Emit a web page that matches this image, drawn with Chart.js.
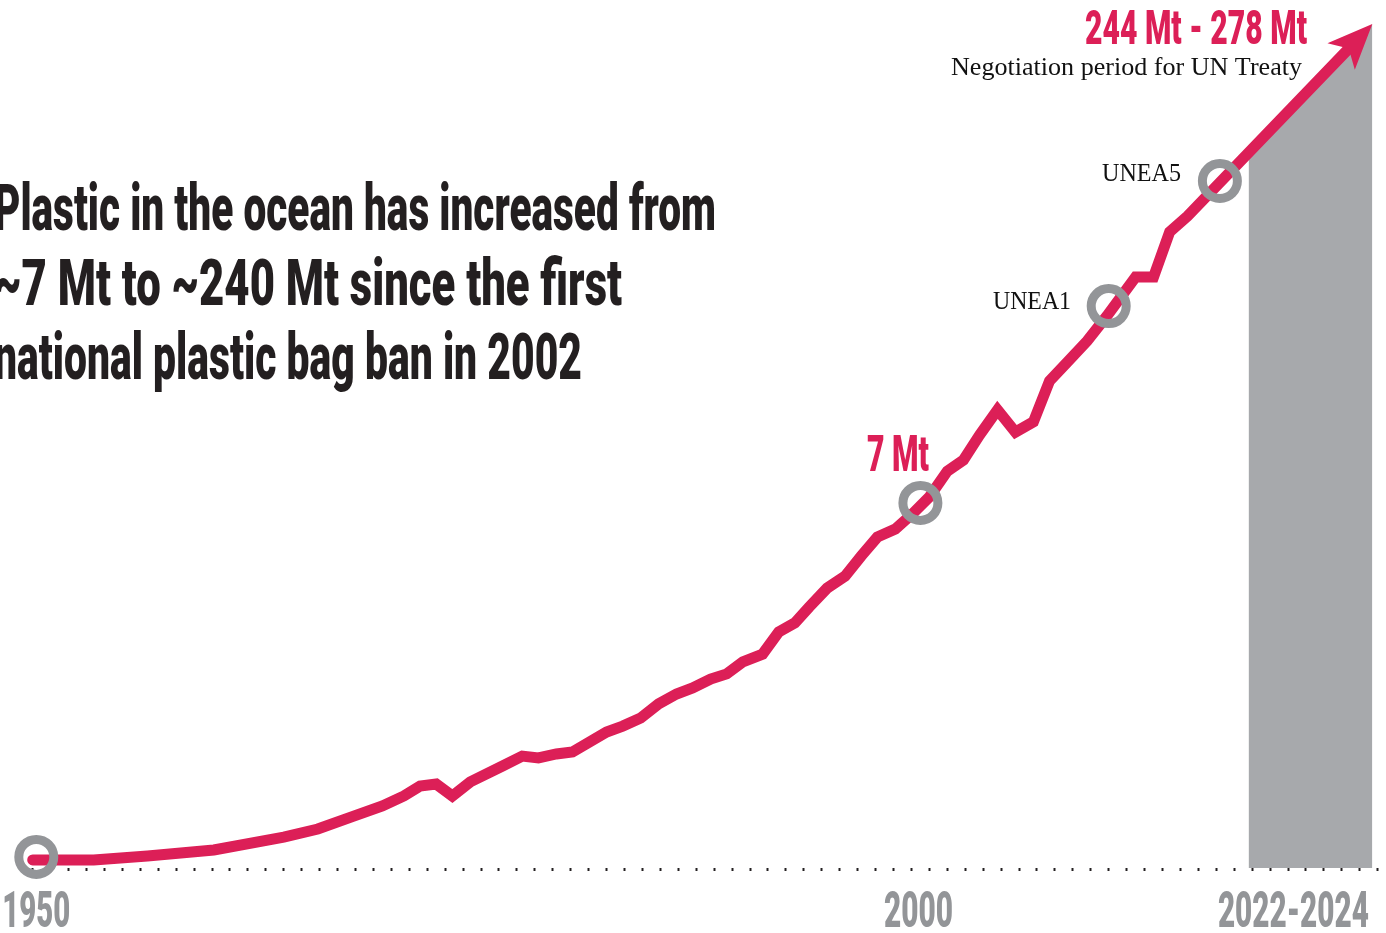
<!DOCTYPE html>
<html>
<head>
<meta charset="utf-8">
<title>Plastic in the ocean</title>
<style>
  html, body { margin: 0; padding: 0; background: #fff; }
  #chart { display: block; }
</style>
<script src="https://cdn.jsdelivr.net/npm/chart.js@4.4.1/dist/chart.umd.min.js"></script>
</head>
<body>
<canvas id="chart" width="1386" height="933"></canvas>
<script>
// Plastic in the ocean, stylised curve (x = year, y = relative amount, arrow tip ~278 Mt)
const years = [
    1950.0, 1953.4, 1956.4, 1960.1, 1964.0, 1965.9, 1967.9, 1969.5, 1970.7, 1971.6,
    1972.5, 1973.4, 1974.4, 1976.2, 1977.3, 1978.2, 1979.2, 1980.1, 1982.0, 1982.9,
    1983.9, 1984.9, 1985.9, 1986.8, 1987.8, 1988.7, 1989.6, 1990.7, 1991.6, 1992.5,
    1993.3, 1994.3, 1995.3, 1996.2, 1997.1, 1998.1, 1999.1, 2000.0, 2001.0, 2001.9,
    2002.8, 2003.8, 2004.8, 2005.8, 2006.7, 2007.7, 2008.8, 2009.9, 2011.5, 2012.5,
    2013.4, 2014.4, 2024.7
];
const plastic = [
    2.7, 2.7, 4.0, 6.0, 10.3, 13.0, 17.3, 20.7, 24.0, 27.3,
    28.0, 24.0, 28.7, 34.0, 37.3, 36.7, 38.0, 38.7, 45.3, 47.3,
    50.0, 54.7, 58.0, 60.0, 63.0, 64.7, 68.7, 71.3, 78.7, 81.7,
    87.0, 93.3, 97.3, 104.0, 110.3, 113.0, 118.3, 123.7, 132.3, 136.0,
    144.3, 152.7, 145.3, 148.7, 162.3, 168.7, 175.7, 184.0, 197.0, 197.0,
    212.0, 217.3, 281.3
];

// circled milestones
const markerYears = [1950.2, 1999.5, 2010.0, 2016.2];
const markerValues = [3.7, 121.7, 187.3, 229.0];

// negotiation period band
const bandYears = [2017.8, 2024.7];
const bandValues = [238.8, 281.3];

// axis labels
const xTickLabels = ['1950', '2000', '2022-2024'];
const xTickYears = [1950.2, 1999.4, 2020.3];

const titleLines = [
    'Plastic in the ocean has increased from',
    '~7 Mt to ~240 Mt since the first',
    'national plastic bag ban in 2002'
];

const RED = '#dc1f57';
const GREY = '#939598';
const BAND = '#a7a9ac';
const INK = '#231f20';
const CONDENSED = '"Roboto", "Liberation Sans", sans-serif';
const SERIF = '"Liberation Serif", "DejaVu Serif", serif';

// draw text squeezed horizontally to a given width
function drawFitted(ctx, text, x, y, font, color, width, align) {
    ctx.save();
    ctx.font = font;
    ctx.fillStyle = color;
    ctx.textAlign = 'left';
    ctx.textBaseline = 'alphabetic';
    const w = ctx.measureText(text).width;
    let left = x;
    if (align === 'center') left = x - width / 2;
    if (align === 'right') left = x - width;
    ctx.translate(left, y);
    ctx.scale(width / w, 1);
    ctx.fillText(text, 0, 0);
    ctx.restore();
}

function arrowGeometry(chart) {
    const pts = chart.getDatasetMeta(0).data;
    const tip = pts[pts.length - 1];
    const prev = pts[pts.length - 2];
    const len = Math.hypot(prev.x - tip.x, prev.y - tip.y);
    const u = { x: (prev.x - tip.x) / len, y: (prev.y - tip.y) / len };
    const p = { x: -u.y, y: u.x };
    const at = (a, b) => ({ x: tip.x + u.x * a + p.x * b, y: tip.y + u.y * a + p.y * b });
    return { tip, at };
}

const arrowPlugin = {
    id: 'arrowHead',
    beforeDatasetDraw(chart, args) {
        if (args.index !== 0) return;
        const ctx = chart.ctx;
        const g = arrowGeometry(chart);
        // hide the end of the shaft under the arrow head
        const c = [g.at(28, 8), g.at(-8, 8), g.at(-8, -8), g.at(28, -8)];
        ctx.save();
        ctx.beginPath();
        ctx.rect(0, 0, chart.width, chart.height);
        ctx.moveTo(c[0].x, c[0].y);
        c.slice(1).forEach(q => ctx.lineTo(q.x, q.y));
        ctx.closePath();
        ctx.clip('evenodd');
    },
    afterDatasetDraw(chart, args) {
        if (args.index !== 0) return;
        const ctx = chart.ctx;
        ctx.restore();
        const g = arrowGeometry(chart);
        const w1 = g.at(45, 19), n = g.at(34, 0), w2 = g.at(45, -19);
        ctx.save();
        ctx.fillStyle = RED;
        ctx.beginPath();
        ctx.moveTo(g.tip.x, g.tip.y);
        ctx.lineTo(w1.x, w1.y);
        ctx.lineTo(n.x, n.y);
        ctx.lineTo(w2.x, w2.y);
        ctx.closePath();
        ctx.fill();
        ctx.restore();
    }
};

const textPlugin = {
    id: 'texts',
    afterDraw(chart) {
        const ctx = chart.ctx;
        const x = chart.scales.x;

        // headline, each line squeezed to the width it has in print
        const titleWidths = [722, 628, 588];
        titleLines.forEach((line, i) => {
            drawFitted(ctx, line, -6, 230 + i * 74.5, '900 64px ' + CONDENSED, INK, titleWidths[i], 'left');
        });

        // year labels
        const widths = [68, 69, 151];
        xTickLabels.forEach((lab, i) => {
            drawFitted(ctx, lab, x.getPixelForValue(xTickYears[i]), 927, '900 50px ' + CONDENSED, GREY, widths[i], 'center');
        });

        // annotations
        drawFitted(ctx, '244 Mt - 278 Mt', 1307, 44, '900 48px ' + CONDENSED, RED, 222, 'right');
        drawFitted(ctx, 'Negotiation period for UN Treaty', 1302, 75, '26px ' + SERIF, '#111', 351, 'right');
        drawFitted(ctx, '7 Mt', 929, 471, '900 50px ' + CONDENSED, RED, 62, 'right');
        drawFitted(ctx, 'UNEA1', 1071, 309, '25px ' + SERIF, '#111', 78, 'right');
        drawFitted(ctx, 'UNEA5', 1181, 181, '25px ' + SERIF, '#111', 79, 'right');
    }
};

new Chart(document.getElementById('chart'), {
    type: 'line',
    data: {
        datasets: [
            {
                label: 'Plastic in the ocean',
                data: years.map((y, i) => ({ x: y, y: plastic[i] })),
                borderColor: RED,
                borderWidth: 11,
                borderJoinStyle: 'miter',
                borderCapStyle: 'round',
                tension: 0,
                pointRadius: 0,
                fill: false,
                clip: false,
                order: 1
            },
            {
                label: 'Negotiation period',
                data: bandYears.map((y, i) => ({ x: y, y: bandValues[i] })),
                borderWidth: 0,
                backgroundColor: BAND,
                pointRadius: 0,
                fill: 'origin',
                clip: false,
                order: 2
            },
            {
                label: 'Milestones',
                data: markerYears.map((y, i) => ({ x: y, y: markerValues[i] })),
                showLine: false,
                pointRadius: 17.5,
                pointBorderWidth: 9,
                pointBorderColor: GREY,
                pointBackgroundColor: 'rgba(0,0,0,0)',
                clip: false,
                order: 0
            }
        ]
    },
    options: {
        responsive: false,
        animation: false,
        events: [],
        layout: {
            autoPadding: false,
            padding: { left: 32.7, right: 8.3, top: 19, bottom: 62 }
        },
        plugins: {
            legend: { display: false },
            tooltip: { enabled: false }
        },
        scales: {
            x: {
                type: 'linear',
                min: 1950,
                max: 2025,
                border: { display: false },
                grid: {
                    display: true,
                    drawOnChartArea: false,
                    drawTicks: true,
                    tickLength: 3,
                    tickWidth: 2,
                    tickColor: INK
                },
                ticks: { display: false, stepSize: 1 }
            },
            y: {
                display: false,
                min: 0,
                max: 283
            }
        }
    },
    plugins: [arrowPlugin, textPlugin]
});
</script>
</body>
</html>
